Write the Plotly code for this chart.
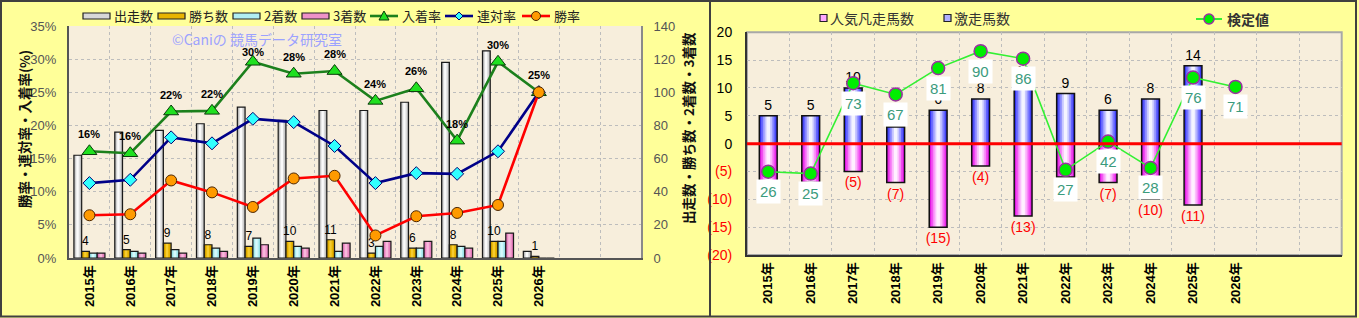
import plotly.graph_objects as go

W, H = 1359, 318


def px(x):
    return x / W


def py(y):
    return 1 - y / H


# ---------------- data ----------------
years = ["2015年", "2016年", "2017年", "2018年", "2019年", "2020年",
         "2021年", "2022年", "2023年", "2024年", "2025年", "2026年"]
starts = [62, 76, 77, 81, 91, 83, 89, 89, 94, 118, 125, 4]
wins = [4, 5, 9, 8, 7, 10, 11, 3, 6, 8, 10, 1]
seconds = [3, 4, 5, 6, 12, 7, 4, 7, 6, 7, 10, 0]
thirds = [3, 3, 3, 4, 8, 6, 9, 10, 10, 6, 15, 0]
win_rate = [6.45, 6.6, 11.7, 9.9, 7.7, 12.0, 12.4, 3.4, 6.3, 6.8, 8.0, 25.0]
top2_rate = [11.3, 11.8, 18.2, 17.3, 21.0, 20.5, 16.9, 11.3, 12.8, 12.7, 16.1, 25.0]
top3_rate = [16.1, 15.8, 22.1, 22.2, 29.6, 27.8, 28.2, 23.7, 25.6, 17.7, 29.6, 25.0]

gekisou = [5, 5, 10, 3, 6, 8, 11, 9, 6, 8, 14, None]      # 激走馬数
bonsou = [7, 7, 5, 7, 15, 4, 13, 6, 7, 10, 11, None]      # 人気凡走馬数
kentei = [26, 25, 73, 67, 81, 90, 86, 27, 42, 28, 76, 71]  # 検定値

left_ticks = [0, 5, 10, 15, 20, 25, 30, 35]
right_ticks = [0, 20, 40, 60, 80, 100, 120, 140]
r_ticks = [-20, -15, -10, -5, 0, 5, 10, 15, 20]

xs = list(range(len(years)))

FONT = "Liberation Sans, Noto Sans CJK JP, sans-serif"
JP = "Noto Sans CJK JP, Liberation Sans, sans-serif"

fig = go.Figure()


def bar(y, off, width, color, xa, ya, line_w=0, line_c="#000", **kw):
    return go.Bar(
        x=xs, y=y, offset=off, width=width,
        marker=dict(color=color, line=dict(width=line_w, color=line_c)),
        xaxis=xa, yaxis=ya, showlegend=False, hoverinfo="skip", **kw)


# ---------------- left chart bars ----------------
BW = 0.19
left_groups = [
    (starts, -0.38, ["#B4B4B4", "#DADADA", "#FAFAFA"]),
    (wins, -0.19, ["#C89800", "#E8B400", "#F6CC30"]),
    (seconds, 0.0, ["#8ED8DC", "#B0EEF2", "#D6FAFC"]),
    (thirds, 0.19, ["#D870B0", "#EE92C8", "#F8B8DC"]),
]
for vals, off, cols in left_groups:
    fig.add_trace(bar(vals, off, BW, cols[0], "x", "y"))
    fig.add_trace(bar(vals, off + BW * 0.18, BW * 0.64, cols[1], "x", "y"))
    fig.add_trace(bar(vals, off + BW * 0.32, BW * 0.30, cols[2], "x", "y"))
    kw = {}
    if vals is wins:
        kw = dict(text=[str(v) for v in wins], textposition="outside",
                  textfont=dict(size=12, color="#000", family=FONT),
                  constraintext="none", cliponaxis=False)
    fig.add_trace(bar(vals, off, BW, "rgba(0,0,0,0)", "x", "y",
                      line_w=1.2, line_c="#1A1A1A", **kw))

# ---------------- left chart lines ----------------
fig.add_trace(go.Scatter(
    x=xs, y=top3_rate, xaxis="x", yaxis="y2", mode="lines+markers",
    line=dict(color="#1C801C", width=2.6),
    marker=dict(symbol="triangle-up", size=13, color="#20E020",
                line=dict(color="#0A3A0A", width=1)),
    showlegend=False, hoverinfo="skip"))
fig.add_trace(go.Scatter(
    x=xs, y=top2_rate, xaxis="x", yaxis="y2", mode="lines+markers",
    line=dict(color="#000088", width=2.6),
    marker=dict(symbol="diamond", size=10, color="#30FFFF",
                line=dict(color="#000070", width=1)),
    showlegend=False, hoverinfo="skip"))
fig.add_trace(go.Scatter(
    x=xs, y=win_rate, xaxis="x", yaxis="y2", mode="lines+markers",
    line=dict(color="#FF0000", width=2.6),
    marker=dict(symbol="circle", size=11, color="#FF9A00",
                line=dict(color="#4A2400", width=1)),
    showlegend=False, hoverinfo="skip"))

# ---------------- right chart bars ----------------
RW = 0.42
blue_layers = [(1.0, "#3434F0"), (0.80, "#6464FF"), (0.60, "#9898FF"),
               (0.40, "#C8C8FF"), (0.20, "#F4F4FF")]
pink_layers = [(1.0, "#E018E0"), (0.80, "#F048F0"), (0.60, "#F888F8"),
               (0.40, "#FCC0FC"), (0.20, "#FFF0FF")]
neg_bonsou = [(-v if v is not None else None) for v in bonsou]
for frac, col in pink_layers:
    w = RW * frac
    fig.add_trace(bar(neg_bonsou, -w / 2, w, col, "x2", "y3"))
fig.add_trace(bar(neg_bonsou, -RW / 2, RW, "rgba(0,0,0,0)", "x2", "y3",
                  line_w=1.5, line_c="#111",
                  text=[f"({v})" if v is not None else "" for v in bonsou],
                  textposition="outside", constraintext="none", cliponaxis=False,
                  textfont=dict(size=14, color="#FF0000", family=FONT)))
for frac, col in blue_layers:
    w = RW * frac
    fig.add_trace(bar(gekisou, -w / 2, w, col, "x2", "y3"))
fig.add_trace(bar(gekisou, -RW / 2, RW, "rgba(0,0,0,0)", "x2", "y3",
                  line_w=1.5, line_c="#111",
                  text=[str(v) if v is not None else "" for v in gekisou],
                  textposition="outside", constraintext="none", cliponaxis=False,
                  textfont=dict(size=14, color="#000", family=FONT)))

fig.add_trace(go.Scatter(
    x=xs, y=kentei, xaxis="x2", yaxis="y4", mode="lines+markers",
    line=dict(color="#33F033", width=1.6),
    marker=dict(symbol="circle", size=13, color="#00EE00",
                line=dict(color="#9A30A0", width=1.5)),
    showlegend=False, hoverinfo="skip"))

# ---------------- annotations ----------------
ann = []
label_shift = [17, 17, 17, 17, 10, 17, 17, 17, 17, 17, 17, 17]
for i, r in enumerate(top3_rate):
    ann.append(dict(x=i, y=r, xref="x", yref="y2", text=f"<b>{round(r)}%</b>",
                    showarrow=False, yshift=label_shift[i],
                    font=dict(size=11, color="#000", family=FONT)))
for i, v in enumerate(kentei):
    ann.append(dict(x=i, y=v, xref="x2", yref="y4", text=str(v),
                    showarrow=False, yshift=-20, bgcolor="#FFFFFF", borderpad=3,
                    font=dict(size=15, color="#3B9B7D", family=FONT)))

ann.append(dict(x=px(257), y=py(39), xref="paper", yref="paper",
                xanchor="center", yanchor="middle",
                text="©Caniの 競馬データ研究室", showarrow=False,
                font=dict(size=14, color="#9CA2FF", family=JP)))
ann.append(dict(x=px(24), y=py(129), xref="paper", yref="paper",
                xanchor="center", yanchor="middle",
                text="<b>勝率・連対率・入着率(%)</b>", showarrow=False, textangle=-90,
                font=dict(size=13.5, color="#111", family=JP)))
ann.append(dict(x=px(688), y=py(128), xref="paper", yref="paper",
                xanchor="center", yanchor="middle",
                text="<b>出走数・勝ち数・2着数・3着数</b>", showarrow=False, textangle=-90,
                font=dict(size=13.5, color="#111", family=JP)))

shapes = []

# left legend
legend_bars = [("出走数", 83, "#D8D8D8"), ("勝ち数", 158, "#E8B400"),
               ("2着数", 233, "#B0EEF2"), ("3着数", 302, "#EE92C8")]
for name, x0, col in legend_bars:
    shapes.append(dict(type="rect", xref="paper", yref="paper",
                       x0=px(x0), x1=px(x0 + 27), y0=py(19), y1=py(13),
                       fillcolor=col, line=dict(color="#222", width=1.2)))
    ann.append(dict(x=px(x0 + 29), y=py(16), xref="paper", yref="paper",
                    text=name, showarrow=False, xanchor="left", yanchor="middle",
                    font=dict(size=13, color="#222", family=JP)))

legend_lines = [("入着率", 370, "#1C801C", "tri", "#20E020", "#0A3A0A"),
                ("連対率", 445, "#000088", "dia", "#30FFFF", "#000070"),
                ("勝率", 522, "#FF0000", "cir", "#FF9A00", "#4A2400")]
for name, x0, col, sym, fill, edge in legend_lines:
    cy = 16
    shapes.append(dict(type="line", xref="paper", yref="paper",
                       x0=px(x0), x1=px(x0 + 28), y0=py(cy), y1=py(cy),
                       line=dict(color=col, width=2.6)))
    cx = x0 + 14
    if sym == "tri":
        path = (f"M {px(cx - 5)},{py(cy + 4)} L {px(cx + 5)},{py(cy + 4)} "
                f"L {px(cx)},{py(cy - 5)} Z")
        shapes.append(dict(type="path", xref="paper", yref="paper", path=path,
                           fillcolor=fill, line=dict(color=edge, width=1)))
    elif sym == "dia":
        path = (f"M {px(cx)},{py(cy - 4)} L {px(cx + 4)},{py(cy)} "
                f"L {px(cx)},{py(cy + 4)} L {px(cx - 4)},{py(cy)} Z")
        shapes.append(dict(type="path", xref="paper", yref="paper", path=path,
                           fillcolor=fill, line=dict(color=edge, width=1)))
    else:
        shapes.append(dict(type="circle", xref="paper", yref="paper",
                           x0=px(cx - 4.5), x1=px(cx + 4.5), y0=py(cy + 4.5), y1=py(cy - 4.5),
                           fillcolor=fill, line=dict(color=edge, width=1)))
    ann.append(dict(x=px(x0 + 30), y=py(16), xref="paper", yref="paper",
                    text=name, showarrow=False, xanchor="left", yanchor="middle",
                    font=dict(size=13, color="#222", family=JP)))

# right legend
for name, x0, col in [("人気凡走馬数", 820, "#FFA8FF"), ("激走馬数", 944, "#B0B0FF")]:
    shapes.append(dict(type="rect", xref="paper", yref="paper",
                       x0=px(x0), x1=px(x0 + 7), y0=py(21.5), y1=py(14.5),
                       fillcolor=col, line=dict(color="#222", width=1.2)))
    ann.append(dict(x=px(x0 + 8), y=py(18), xref="paper", yref="paper",
                    text=name, showarrow=False, xanchor="left", yanchor="middle",
                    font=dict(size=14, color="#333", family=JP)))
shapes.append(dict(type="line", xref="paper", yref="paper",
                   x0=px(1196), x1=px(1222), y0=py(19), y1=py(19),
                   line=dict(color="#33F033", width=2)))
shapes.append(dict(type="circle", xref="paper", yref="paper",
                   x0=px(1204), x1=px(1214), y0=py(24), y1=py(14),
                   fillcolor="#00EE00", line=dict(color="#9A30A0", width=1.5)))
ann.append(dict(x=px(1225), y=py(19), xref="paper", yref="paper",
                text="<b>検定値</b>", showarrow=False, xanchor="left", yanchor="middle",
                font=dict(size=14, color="#333", family=JP)))

# right chart light frame (top / right)
shapes.append(dict(type="rect", xref="x2 domain", yref="y3 domain",
                   x0=0, x1=1, y0=0, y1=1, line=dict(color="#A8A8A8", width=2),
                   layer="below"))
# red zero line
shapes.append(dict(type="line", xref="x2 domain", yref="y3", x0=0, x1=1,
                   y0=0, y1=0, line=dict(color="#FF0000", width=3), layer="above"))
# panel frames
shapes.append(dict(type="rect", xref="paper", yref="paper",
                   x0=px(1), x1=px(1356), y0=py(316.5), y1=py(1),
                   line=dict(color="#404040", width=2)))
shapes.append(dict(type="line", xref="paper", yref="paper",
                   x0=px(710), x1=px(710), y0=py(316.5), y1=py(1),
                   line=dict(color="#404040", width=2)))

GRID = dict(showgrid=True, gridcolor="#BDBDBD", griddash="dot", gridwidth=1)
xminor = dict(tickmode="linear", tick0=-0.5, dtick=1, ticks="", **GRID)
xtickfont = dict(size=13, color="#000", family=FONT)
year_text = [f"<b>{y}</b>" for y in years]

r_ticktext = []
for t in r_ticks:
    if t < 0:
        r_ticktext.append(f'<span style="color:#FF0000">({-t})</span>')
    else:
        r_ticktext.append(str(t))

fig.update_layout(
    width=W, height=H, autosize=False,
    margin=dict(l=0, r=0, t=0, b=0, pad=0, autoexpand=False),
    paper_bgcolor="#FFFF99", plot_bgcolor="#F7EEDC",
    font=dict(family=FONT),
    barmode="overlay", showlegend=False,
    xaxis=dict(domain=[px(69), px(641)], anchor="y", range=[-0.5, 13.5],
               tickmode="array", tickvals=xs, ticktext=year_text, tickangle=-90,
               tickfont=xtickfont, showgrid=False, zeroline=False, automargin=False,
               minor=xminor, showline=True, linecolor="#555", linewidth=2, ticks=""),
    yaxis=dict(domain=[1 - 258 / H, 1 - 26 / H], anchor="x", side="right",
               range=[0, 140], tickmode="array", tickvals=right_ticks,
               ticktext=[str(t) for t in right_ticks],
               tickfont=dict(size=13, color="#555", family=FONT), automargin=False,
               zeroline=False, showline=True, linecolor="#8A8A8A", linewidth=2,
               ticks="", ticklabelstandoff=8, **GRID),
    yaxis2=dict(overlaying="y", side="left", anchor="x", range=[0, 35],
                tickmode="array", tickvals=left_ticks,
                ticktext=[f"{t}%" for t in left_ticks],
                tickfont=dict(size=13, color="#555", family=FONT), automargin=False,
                showgrid=False, zeroline=False, showline=True, linecolor="#555",
                linewidth=2, ticks="", ticklabelstandoff=8),
    xaxis2=dict(domain=[px(747), px(1341.7)], anchor="y3", range=[-0.5, 13.5],
                tickmode="array", tickvals=xs, ticktext=year_text, tickangle=-90,
                tickfont=xtickfont, showgrid=False, zeroline=False, automargin=False,
                minor=xminor, showline=True, linecolor="#333", linewidth=2, ticks=""),
    yaxis3=dict(domain=[1 - 255 / H, 1 - 32.3 / H], anchor="x2", range=[-20, 20],
                tickmode="array", tickvals=r_ticks, ticktext=r_ticktext,
                tickfont=dict(size=14, color="#000", family=FONT), automargin=False,
                zeroline=False, showline=True, linecolor="#333", linewidth=2,
                ticks="", ticklabelstandoff=10, **GRID),
    yaxis4=dict(overlaying="y3", anchor="x2", range=[-18.2, 100], visible=False,
                automargin=False),
    annotations=ann, shapes=shapes,
)

fig.write_html("out.html", config={"displayModeBar": False})
